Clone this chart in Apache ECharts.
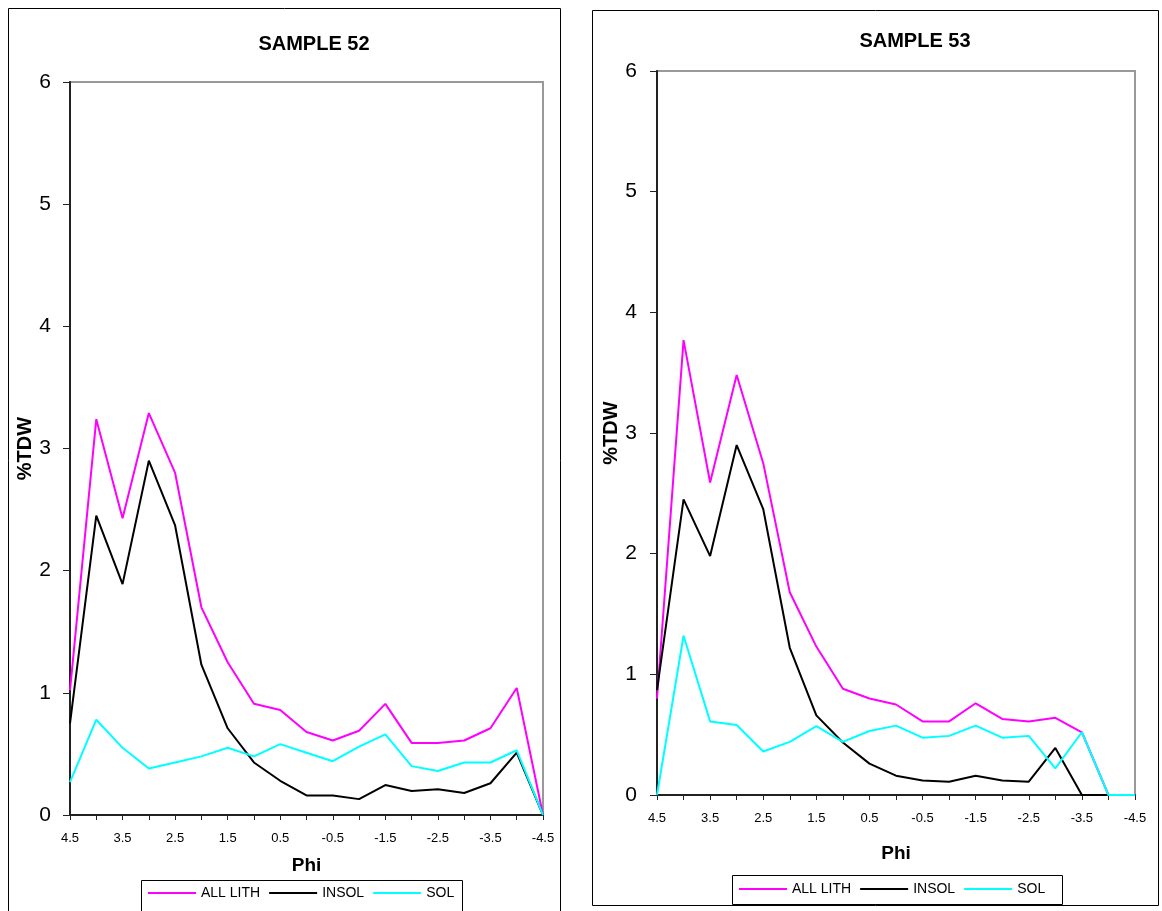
<!DOCTYPE html>
<html>
<head>
<meta charset="utf-8">
<script src="https://cdn.jsdelivr.net/npm/echarts@6/dist/echarts.min.js"></script>
<style>
html,body{margin:0;padding:0;background:#fff;}
#chart{width:1162px;height:911px;}
</style>
</head>
<body>
<div id="chart"></div>
<script>
// Phi size classes (category axis)
const phi = ['4.5','4','3.5','3','2.5','2','1.5','1','0.5','0','-0.5','-1','-1.5','-2','-2.5','-3','-3.5','-4','-4.5'];
const seriesNames = ['ALL LITH', 'INSOL', 'SOL'];
const titles = ['SAMPLE 52', 'SAMPLE 53'];
const yTicks = [0, 6, 1]; // min, max, interval

// SAMPLE 52 (%TDW)
const s52AllLith = [1.02,3.24,2.43,3.29,2.80,1.70,1.25,0.91,0.86,0.68,0.61,0.69,0.91,0.59,0.59,0.61,0.71,1.04,0];
const s52Insol   = [0.75,2.45,1.89,2.90,2.37,1.23,0.71,0.43,0.28,0.16,0.16,0.13,0.245,0.196,0.21,0.18,0.26,0.51,0];
const s52Sol     = [0.27,0.78,0.55,0.38,0.43,0.48,0.55,0.48,0.58,0.51,0.44,0.56,0.66,0.40,0.36,0.43,0.43,0.53,0];

// SAMPLE 53 (%TDW)
const s53AllLith = [0.80,3.77,2.59,3.48,2.75,1.68,1.23,0.88,0.80,0.75,0.61,0.61,0.76,0.63,0.61,0.64,0.52,0,0];
const s53Insol   = [0.87,2.45,1.98,2.90,2.37,1.22,0.66,0.435,0.26,0.16,0.12,0.11,0.16,0.12,0.11,0.39,0,0,0];
const s53Sol     = [0,1.32,0.61,0.58,0.36,0.44,0.57,0.44,0.53,0.575,0.475,0.49,0.575,0.475,0.49,0.22,0.52,0,0];

const colors = ['#FF00FF', '#000000', '#00FFFF'];
const FONT = "'Liberation Sans', Arial, sans-serif";

const chart = echarts.init(document.getElementById('chart'), null, {renderer: 'canvas'});

function xAxisCfg(gridIndex, nameGap) {
  return {
    type: 'category', gridIndex, data: phi, boundaryGap: false,
    name: 'Phi', nameLocation: 'middle', nameGap,
    nameTextStyle: {fontFamily: FONT, fontSize: 19, fontWeight: 'bold', color: '#000'},
    axisLine: {show: true, onZero: false, lineStyle: {color: '#222', width: 2}},
    axisTick: {show: true, interval: 0, length: 5, lineStyle: {color: '#222', width: 1}},
    axisLabel: {interval: 1, fontFamily: FONT, fontSize: 13, color: '#000', margin: 17},
    splitLine: {show: false}
  };
}
function yAxisCfg(gridIndex, nameGap, margin) {
  return {
    type: 'value', gridIndex, min: yTicks[0], max: yTicks[1], interval: yTicks[2],
    name: '%TDW', nameLocation: 'middle', nameGap, nameRotate: 90,
    nameTextStyle: {fontFamily: FONT, fontSize: 20, fontWeight: 'bold', color: '#000'},
    axisLine: {show: true, lineStyle: {color: '#222', width: 2}},
    axisTick: {show: true, length: 7, lineStyle: {color: '#222', width: 1}},
    axisLabel: {fontFamily: FONT, fontSize: 21, color: '#000', margin},
    splitLine: {show: false}
  };
}
function lineSeries(name, data, idx, axisIndex) {
  return {
    name, type: 'line', data, xAxisIndex: axisIndex, yAxisIndex: axisIndex,
    showSymbol: false, symbol: 'none', smooth: false,
    color: colors[idx],
    itemStyle: {color: colors[idx]},
    lineStyle: {color: colors[idx], width: 2},
    emphasis: {disabled: true}
  };
}
function legendCfg(left, top) {
  return {
    data: seriesNames, left, top, orient: 'horizontal',
    icon: 'rect', itemWidth: 48, itemHeight: 2, itemGap: 9, padding: 0,
    selectedMode: false,
    textStyle: {fontFamily: FONT, fontSize: 14, color: '#000', padding: [0, 0, 0, 0]}
  };
}

const option = {
  animation: false,
  backgroundColor: '#fff',
  title: [
    {text: titles[0], left: 309, top: 29, textAlign: 'center',
     textStyle: {fontFamily: FONT, fontSize: 20, fontWeight: 'bold', color: '#000'}},
    {text: titles[1], left: 910, top: 26, textAlign: 'center',
     textStyle: {fontFamily: FONT, fontSize: 20, fontWeight: 'bold', color: '#000'}}
  ],
  grid: [
    {left: 70, top: 82, width: 473, height: 733, show: true, borderColor: '#999', borderWidth: 2, backgroundColor: '#fff'},
    {left: 657, top: 71, width: 478, height: 724, show: true, borderColor: '#999', borderWidth: 2, backgroundColor: '#fff'}
  ],
  xAxis: [xAxisCfg(0, 41), xAxisCfg(1, 49)],
  yAxis: [yAxisCfg(0, 32, 19), yAxisCfg(1, 33, 20)],
  legend: [legendCfg(148, 886), legendCfg(739, 882)],
  graphic: [
    {type: 'rect', shape: {x: 8.5, y: 8.5, width: 552, height: 1000}, style: {fill: 'none', stroke: '#000', lineWidth: 1}, silent: true},
    {type: 'rect', shape: {x: 592.5, y: 10.5, width: 566, height: 895}, style: {fill: 'none', stroke: '#000', lineWidth: 1}, silent: true},
    {type: 'rect', shape: {x: 141.5, y: 880.5, width: 321, height: 40}, style: {fill: 'none', stroke: '#000', lineWidth: 1}, silent: true},
    {type: 'rect', shape: {x: 732.5, y: 875.5, width: 330, height: 29}, style: {fill: 'none', stroke: '#000', lineWidth: 1}, silent: true}
  ],
  series: [
    lineSeries(seriesNames[0], s52AllLith, 0, 0),
    lineSeries(seriesNames[1], s52Insol, 1, 0),
    lineSeries(seriesNames[2], s52Sol, 2, 0),
    lineSeries(seriesNames[0], s53AllLith, 0, 1),
    lineSeries(seriesNames[1], s53Insol, 1, 1),
    lineSeries(seriesNames[2], s53Sol, 2, 1)
  ]
};
chart.setOption(option);
</script>
</body>
</html>
